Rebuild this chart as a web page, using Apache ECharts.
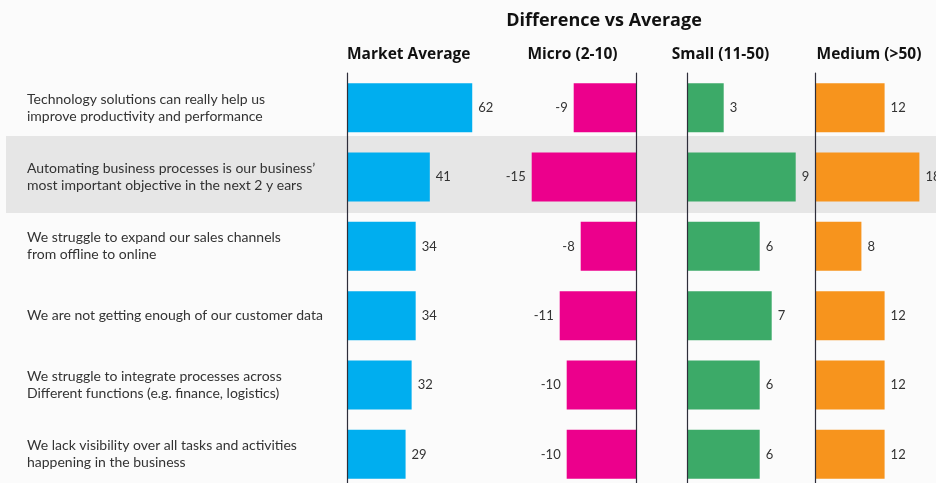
<!DOCTYPE html>
<html>
<head>
<meta charset="utf-8">
<script src="https://cdn.jsdelivr.net/npm/echarts@6/dist/echarts.min.js"></script>
<style>
html,body{margin:0;padding:0;background:#fbfbfb;overflow:hidden;width:936px;height:483px;}
#chart{width:936px;height:530px;}
</style>
</head>
<body>
<div id="chart"></div>
<script>
const categories = [
  "Technology solutions can really help us\nimprove productivity and performance",
  "Automating business processes is our business\u2019\nmost important objective in the next 2 y ears",
  "We struggle to expand our sales channels\nfrom offline to online",
  "We are not getting enough of our customer data",
  "We struggle to integrate processes across\nDifferent functions (e.g. finance, logistics)",
  "We lack visibility over all tasks and activities\nhappening in the business"
];
const highlighted = 1;
const mainTitle = "Difference vs Average";
const panelTitles = ["Market Average", "Micro (2-10)", "Small (11-50)", "Medium (>50)"];
const marketAverage = [62, 41, 34, 34, 32, 29];
const micro = [-9, -15, -8, -11, -10, -10];
const small = [3, 9, 6, 7, 6, 6];
const medium = [12, 18, 8, 12, 12, 12];

const colors = ["#00aeef", "#ec008c", "#3caa68", "#f7941d"];
const FONT = "Lato";
const HFONT = "Open Sans";
const axisColor = "#2e2e3a";
const rowTop = 73, rowH = 69.33;
const H = rowH * categories.length;

const panels = [
  {left: 347, width: 141.4, min: 0, max: 70, data: marketAverage, pos: "right", tx: 347, align: "left"},
  {left: 496.7, width: 140, min: -20, max: 0, data: micro, pos: "left", tx: 572.5, align: "center"},
  {left: 687.7, width: 120, min: 0, max: 10, data: small, pos: "right", tx: 720.5, align: "center"},
  {left: 815, width: 116, min: 0, max: 20, data: medium, pos: "right", tx: 869, align: "center"}
];

const grids = [], xAxes = [], yAxes = [], series = [];
// background highlight grid
const bandH = 77;
grids.push({left: 6, width: 930, top: 136 - bandH * highlighted, height: bandH * categories.length});
xAxes.push({gridIndex: 0, type: "value", show: false});
yAxes.push({gridIndex: 0, type: "category", data: categories, inverse: true,
  axisLine: {show: false}, axisTick: {show: false}, axisLabel: {show: false},
  splitLine: {show: false},
  splitArea: {show: true, interval: 0, areaStyle: {color: categories.map((c, i) => i === highlighted ? "#e6e6e6" : "rgba(0,0,0,0)")}}});

panels.forEach((p, i) => {
  const gi = i + 1;
  grids.push({left: p.left, width: p.width, top: rowTop, height: H});
  xAxes.push({gridIndex: gi, type: "value", min: p.min, max: p.max, show: false});
  yAxes.push({gridIndex: gi, type: "category", data: categories, inverse: true, z: 5,
    axisLine: {show: true, onZero: true, lineStyle: {color: axisColor, width: 1.2}},
    axisTick: {show: false},
    axisLabel: i === 0 ? {show: true, align: "left", margin: 320, color: "#333", fontFamily: FONT, fontSize: 14, lineHeight: 17} : {show: false},
    splitLine: {show: false}});
  series.push({type: "bar", xAxisIndex: gi, yAxisIndex: gi, data: p.data, barWidth: 49,
    itemStyle: {color: colors[i]},
    label: {show: true, position: p.pos, distance: 6, color: "#333", fontFamily: FONT, fontSize: 13},
    silent: true, animation: false});
});

const titles = [{text: mainTitle, left: 604, top: 12, textAlign: "center", padding: 0,
  textStyle: {fontFamily: HFONT, fontWeight: "bold", fontSize: 18, color: "#111"}}];
panels.forEach((p, i) => {
  titles.push({text: panelTitles[i], left: p.tx, top: 47, textAlign: p.align, padding: 0,
    textStyle: {fontFamily: HFONT, fontWeight: "bold", fontSize: 15.5, color: "#111"}});
});

const chart = echarts.init(document.getElementById("chart"), null, {renderer: "canvas"});
chart.setOption({
  backgroundColor: "#fbfbfb",
  animation: false,
  title: titles,
  grid: grids,
  xAxis: xAxes,
  yAxis: yAxes,
  series: series
});
</script>
</body>
</html>
